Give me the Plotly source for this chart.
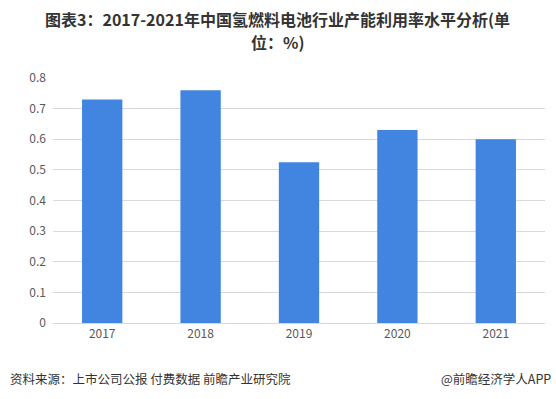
import plotly.graph_objects as go

years = ["2017", "2018", "2019", "2020", "2021"]
utilization = [0.73, 0.76, 0.525, 0.63, 0.60]
y_ticks = [0, 0.1, 0.2, 0.3, 0.4, 0.5, 0.6, 0.7, 0.8]
y_tick_labels = ["0", "0.1", "0.2", "0.3", "0.4", "0.5", "0.6", "0.7", "0.8"]

title_line1 = "图表3：2017-2021年中国氢燃料电池行业产能利用率水平分析(单"
title_line2 = "位：%)"
source_text = "资料来源：上市公司公报 付费数据 前瞻产业研究院"
brand_text = "@前瞻经济学人APP"

FONT = "Noto Sans CJK SC, Microsoft YaHei, sans-serif"

W, H = 556, 399
ML, MR, MT, MB = 53, 11, 78, 76
PW, PH = W - ML - MR, H - MT - MB


def px_x(x):
    return (x - ML) / PW


def px_y(y):
    return 1 - (y - MT) / PH


fig = go.Figure(go.Bar(
    x=years, y=utilization,
    marker=dict(color="#4285E0", line=dict(width=0)),
    hoverinfo="x+y",
))

fig.update_layout(
    width=W, height=H,
    margin=dict(l=ML, r=MR, t=MT, b=MB),
    paper_bgcolor="white", plot_bgcolor="white",
    bargap=0.59,
    showlegend=False,
    font=dict(family=FONT, color="#595959", size=12),
    xaxis=dict(
        showgrid=False, showline=True, linecolor="#d9d9d9", linewidth=1,
        ticks="", tickfont=dict(size=12, color="#595959"),
    ),
    yaxis=dict(
        range=[0, 0.8], tickvals=y_ticks, ticktext=y_tick_labels,
        showgrid=True, gridcolor="#d9d9d9", gridwidth=1,
        zeroline=False, showline=False, ticks="",
        ticklabelstandoff=6,
        tickfont=dict(size=12, color="#595959"),
    ),
    annotations=[
        dict(text="<b>" + title_line1 + "</b>", x=px_x(277), y=px_y(19),
             xref="paper", yref="paper", xanchor="center", yanchor="middle",
             showarrow=False, font=dict(size=16, color="#333333", family=FONT)),
        dict(text="<b>" + title_line2 + "</b>", x=px_x(277), y=px_y(42),
             xref="paper", yref="paper", xanchor="center", yanchor="middle",
             showarrow=False, font=dict(size=16, color="#333333", family=FONT)),
        dict(text=source_text, x=px_x(8), y=px_y(378), xref="paper", yref="paper",
             xanchor="left", yanchor="middle", showarrow=False,
             font=dict(size=12.5, color="#333333", family=FONT)),
        dict(text=brand_text, x=px_x(553), y=px_y(378), xref="paper", yref="paper",
             xanchor="right", yanchor="middle", showarrow=False,
             font=dict(size=12.5, color="#333333", family=FONT)),
    ],
)

fig.write_html(
    "out.html",
    config={"displayModeBar": False},
    post_script="document.body.style.margin='0';document.body.style.overflow='hidden';",
)
